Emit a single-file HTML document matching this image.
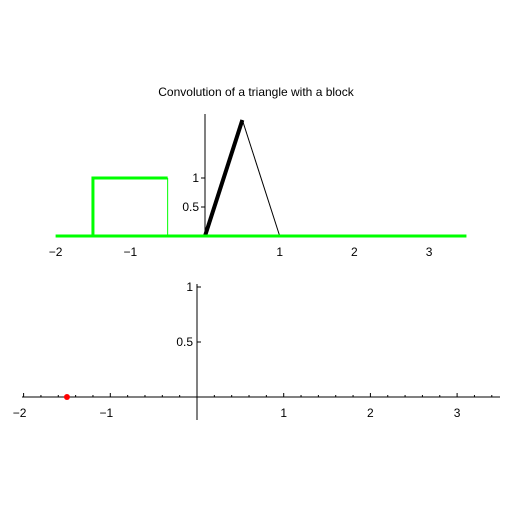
<!DOCTYPE html>
<html><head><meta charset="utf-8"><style>
body{margin:0;background:#fff;}
svg text{font-family:"Liberation Sans",sans-serif;font-size:12px;fill:#000;}
</style></head><body>
<svg id="c" width="512" height="512" viewBox="0 0 512 512">
<rect width="512" height="512" fill="#fff"/>
<text x="256" y="96" text-anchor="middle">Convolution  of a triangle with a block</text>
<g id="top"></g>
<g id="bot"></g>
</svg>
<script>
const topXTicks=[-2,-1,1,2,3];
const topYTicks=[0.5,1];
const triX=[0,0.5,1];
const triY=[0,2,0];
const blockX=[-1.5,-0.5];
const blockH=[1];
const botXTicks=[-2,-1,1,2,3];
const botYTicks=[0.5,1];
const pointX=[-1.5];
const pointY=[0];
const NS='http://www.w3.org/2000/svg';
function mk(p,t,a){const e=document.createElementNS(NS,t);for(const k in a)e.setAttribute(k,a[k]);p.appendChild(e);return e;}
// top
const T=document.getElementById('top');
const tx=v=>205+v*74.7, ty=v=>236-v*58;
let e;
e=mk(T,'line',{x1:tx(0),y1:ty(0),x2:tx(0),y2:114,stroke:'#000','stroke-width':1});


topYTicks.forEach(v=>{mk(T,'line',{x1:tx(0)-4,y1:ty(v),x2:tx(0),y2:ty(v),stroke:'#000'});
e=mk(T,'text',{x:tx(0)-6,y:ty(v)+4,'text-anchor':'end'});e.textContent=v;

});
topXTicks.forEach(v=>{e=mk(T,'text',{x:tx(v),y:ty(0)+20,'text-anchor':'middle'});e.textContent=v<0?'\u2212'+(-v):v;

});
e=mk(T,'line',{x1:tx(blockX[0]),y1:ty(0),x2:tx(blockX[1]),y2:ty(0),stroke:'#000','stroke-width':3});


e=mk(T,'line',{x1:tx(triX[0]),y1:ty(triY[0]),x2:tx(triX[1]),y2:ty(triY[1]),stroke:'#000','stroke-width':4});


e=mk(T,'line',{x1:tx(triX[1]),y1:ty(triY[1]),x2:tx(triX[2]),y2:ty(triY[2]),stroke:'#000','stroke-width':1});


e=mk(T,'line',{x1:tx(-2),y1:ty(0),x2:tx(3.5),y2:ty(0),stroke:'#00ff00','stroke-width':3});


e=mk(T,'polyline',{points:`${tx(blockX[0])},${ty(0)} ${tx(blockX[0])},${ty(blockH[0])} ${tx(blockX[1])},${ty(blockH[0])}`,fill:'none',stroke:'#00ff00','stroke-width':3});


e=mk(T,'line',{x1:tx(blockX[1]),y1:ty(blockH[0]),x2:tx(blockX[1]),y2:ty(0),stroke:'#00ff00','stroke-width':1});


// bottom
const B=document.getElementById('bot');
const bx=v=>197+v*86.7, by=v=>397-v*110;
e=mk(B,'line',{x1:22,y1:by(0),x2:500,y2:by(0),stroke:'#000'});


e=mk(B,'line',{x1:bx(0),y1:420,x2:bx(0),y2:284,stroke:'#000'});


for(let i=-10;i<=17;i++){const v=i/5;const maj=i%5===0;mk(B,'line',{x1:bx(v),y1:by(0)-(maj?4:2),x2:bx(v),y2:by(0),stroke:'#000'});}
botYTicks.forEach(v=>{mk(B,'line',{x1:bx(0),y1:by(v),x2:bx(0)+4,y2:by(v),stroke:'#000'});
e=mk(B,'text',{x:bx(0)-4,y:by(v)+4,'text-anchor':'end'});e.textContent=v;

});
botXTicks.forEach(v=>{e=mk(B,'text',{x:bx(v)-(v<0?4:0),y:by(0)+20,'text-anchor':'middle'});e.textContent=v<0?'\u2212'+(-v):v;

});
pointX.forEach((v,i)=>{e=mk(B,'circle',{cx:bx(v),cy:by(pointY[i]),r:3,fill:'#ff0000'});

});
</script>
</body></html>
